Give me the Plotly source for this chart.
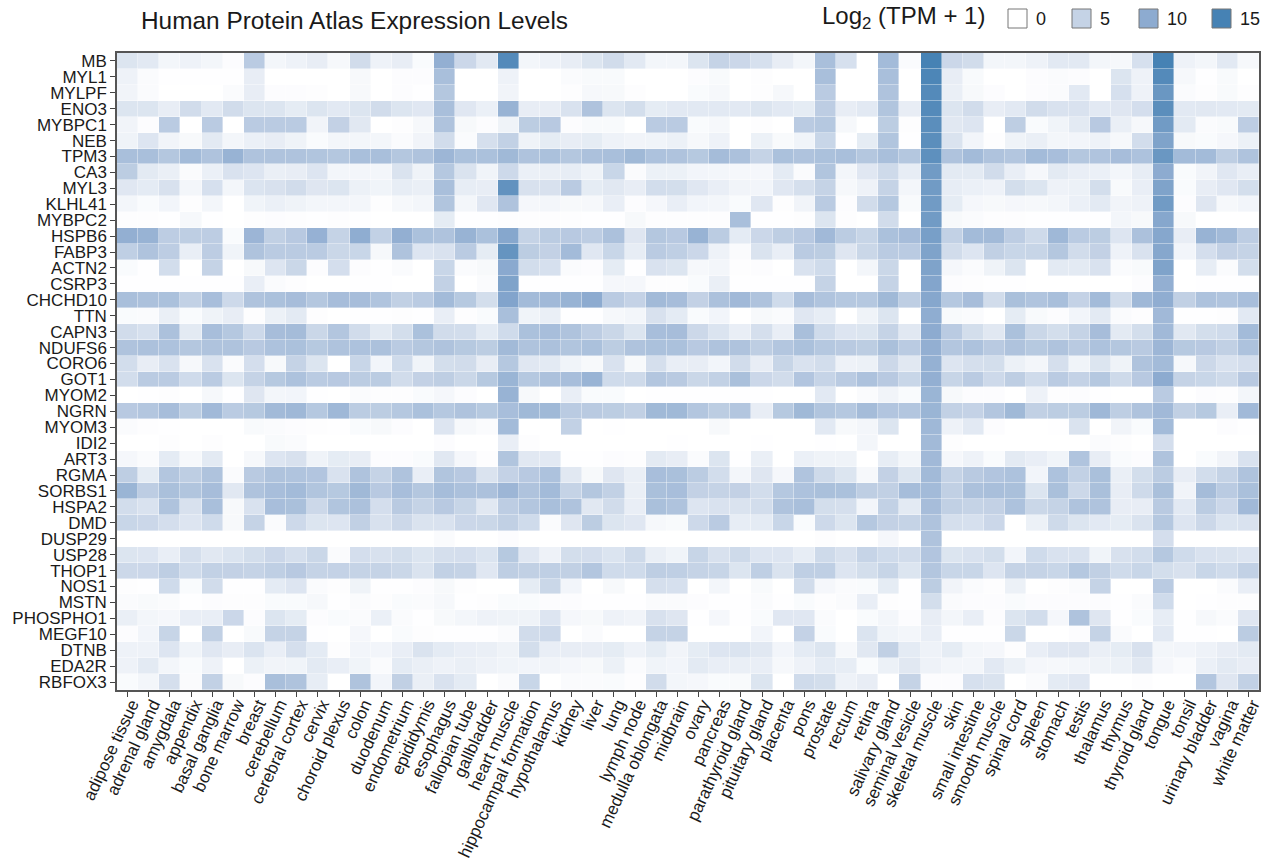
import plotly.graph_objects as go

tissues = ["adipose tissue","adrenal gland","amygdala","appendix","basal ganglia","bone marrow","breast","cerebellum","cerebral cortex","cervix","choroid plexus","colon","duodenum","endometrium","epididymis","esophagus","fallopian tube","gallbladder","heart muscle","hippocampal formation","hypothalamus","kidney","liver","lung","lymph node","medulla oblongata","midbrain","ovary","pancreas","parathyroid gland","pituitary gland","placenta","pons","prostate","rectum","retina","salivary gland","seminal vesicle","skeletal muscle","skin","small intestine","smooth muscle","spinal cord","spleen","stomach","testis","thalamus","thymus","thyroid gland","tongue","tonsil","urinary bladder","vagina","white matter"]
genes = ["MB","MYL1","MYLPF","ENO3","MYBPC1","NEB","TPM3","CA3","MYL3","KLHL41","MYBPC2","HSPB6","FABP3","ACTN2","CSRP3","CHCHD10","TTN","CAPN3","NDUFS6","CORO6","GOT1","MYOM2","NGRN","MYOM3","IDI2","ART3","RGMA","SORBS1","HSPA2","DMD","DUSP29","USP28","THOP1","NOS1","MSTN","PHOSPHO1","MEGF10","DTNB","EDA2R","RBFOX3"]

MB = [3,2.5,1,1.5,1,.3,6,1,1.5,2,.8,4,1.5,2,.5,9.5,4.5,2.5,14,1,1.5,2,3,4,2.5,1,1,3,5,4.5,3.5,2,1,7.5,3.5,0,8,.4,15,4.5,4,1,1,1.5,2.5,2.5,1,.8,3.5,15,1.5,1,2.5,.8]
MYL1 = [1.5,.4,.1,.1,.1,.1,2,0,0,0,0,.7,0,.3,.3,7.5,0,0,1.5,0,0,.4,.6,.6,0,0,0,.3,.6,0,.2,0,0,7.5,0,0,7.5,0,14.5,2,.6,0,0,.3,.4,.3,0,3,1.5,14,.8,.1,.6,0]
MYLPF = [1.2,.4,0,0,0,.4,2,.3,.3,.2,0,.7,0,.3,.1,6.5,0,0,1.2,0,0,.2,.8,.7,.2,0,0,.5,.8,0,.2,.8,0,6,0,0,7,0,14,1.8,.7,.3,0,.3,.4,2.5,0,3.5,1.5,12.5,.4,.2,.6,.2]
ENO3 = [3,3,2,4,2.5,4,3,3,2.2,3,2.5,3,4,3,2.7,7.5,2.7,1.7,9,2,2,3.3,7,3,3.8,2.2,2.5,2.5,2.5,2.5,3,2.5,2.2,5.7,2,2.5,6.8,2,14,3,4,2,2.5,4,3.3,3.3,2.5,2.8,3.7,13.5,2.5,2.6,2.5,2.4]
MYBPC1 = [1.2,.3,6,0,6,0,6,6,6,1.2,5.2,2.6,0,.2,.8,7,.7,.3,1.4,5.8,6.2,.3,.6,.6,0,6,6,.5,.8,0,.2,0,6,6.4,.8,0,5.8,.2,13.5,2.6,2.9,0,5.6,.5,1.3,2.4,6.2,1.8,.8,12,2.4,.4,.6,5.7]
NEB = [1.4,2.9,1.2,.7,2.4,1,1.7,2,1.4,.5,1,1,1,.4,1.2,4,.4,3.6,5.3,1.4,2.2,2,2.2,1.5,1.2,1.3,1.6,.8,1.5,0,1.6,.6,1.3,4.7,.1,2.2,6.8,.1,13.5,3.2,1.1,.2,1.4,1.8,1,1.1,1.5,.8,3.9,11,.7,.5,.9,1.6]
TPM3 = [7.5,7.5,6.5,8,7,9,7,7,7,6.8,6.5,7.5,7.5,6.5,7,8.6,7.3,7.3,8.3,7,7.3,6.5,7.2,7.5,8.3,7.1,7,6.3,7.9,7.2,5,7.3,7,7.3,7.5,6.5,7.5,6.5,13.3,7,8,7,6.6,8,7.6,6.5,6.9,7.7,7.1,12.5,8,8,5.6,7]
CA3 = [5.8,2.4,1.8,.4,1.7,3.3,2.9,1.8,2,2.9,1,1,1,3.2,1.4,6.4,3.2,1.3,4.3,1.7,1.8,2.1,1.4,4.7,.4,1.6,1.6,1.1,1,.9,.9,2.3,.4,6.8,1,2.7,4.2,2.1,12,2.4,2.4,4,1.9,.9,2.4,1.9,1.7,1,2.1,10,.5,1.2,2.7,1.9]
MYL3 = [2.7,2.3,3.4,1,3.5,1,3.1,3.4,4,2.8,3,1.6,1.3,2.1,1.8,7.5,2.1,2,13,3.4,3.4,6,2.2,2.6,2,3.9,3.8,2.7,1.9,1.2,1.1,2.7,3.6,5,.8,1.5,5,1,12,2.1,1.7,1.5,3.8,3,1.5,1.6,3.8,.6,1.9,11,.5,2,2.7,3.8]
KLHL41 = [1,.5,1.1,.2,1,0,1.3,1.7,1.4,1,1,1,.2,.8,1,6.8,1,2.7,7,.9,1,.7,.8,1.9,.3,.9,1.9,1.1,1,.5,2.7,.2,1.2,6,.3,4,6.4,.6,12,2.2,.9,.7,.9,.8,1,1.7,2.4,1.2,1.5,12,.3,2.8,.8,1.1]
MYBPC2 = [.2,.2,.1,.8,.1,0,.2,.3,.2,.1,.2,.1,0,0,0,2.2,.1,.1,.2,.2,.2,.2,.1,.1,.7,.2,.2,.2,.2,7.5,.1,.1,.2,3,.2,0,4,0,12,.7,.4,.2,.2,.1,.1,.1,.1,1,.7,10.5,.7,0,0,0]
HSPB6 = [9.5,9,5.7,5.6,5.7,.5,8.7,5.4,6.2,9.2,5,9.8,5.3,9.5,7.3,7,9,7.3,10.5,5,5.9,6.2,5.7,7.2,2.8,6.5,6.2,9,5.9,2.3,4.5,5.6,6.2,8.2,5.9,4.8,7.3,7.7,11.5,5.3,8,8.1,5.7,4.2,8.4,6,5.8,2.9,7.2,10.5,2,9,8.1,5.7]
FABP3 = [5.5,7,5.7,1.9,5.7,1.3,7,6,6,6,4.6,4.7,.8,7,2.9,3.3,6,2.2,12.8,5.8,5.2,8,2.7,4.7,2.1,6,5.5,4.5,1.5,.4,3.2,1.9,6,5.8,2.8,4.6,6,6,11,4,2.9,5.4,4.7,4.8,6.5,4,5.2,1.5,3.3,10.5,1.1,3.7,5.2,5]
ACTN2 = [.5,.1,3.9,0,5,0,.7,2.9,4.6,.3,3.7,.3,.1,.4,0,4.7,.4,.7,10.2,3.9,3.5,.4,.3,2.2,.1,3.3,3,.8,1,.2,.3,0,3.3,4.1,0,1,4.6,0,11,.9,.4,1.4,3,0,2.4,2.4,3.3,.4,.6,11,0,2.1,.4,3.8]
CSRP3 = [.1,.1,.1,.1,.1,.1,1.9,.4,.2,0,0,.1,.1,0,0,5.3,0,.4,11,.1,.1,.1,.1,.9,.9,.2,.2,.5,1.8,.1,.1,.1,.1,5,0,0,5,0,10.7,.3,.2,.1,.1,0,0,0,0,0,.3,9.5,0,.1,.1,.1]
CHCHD10 = [7.5,7.2,7.3,5.3,7.6,4.3,7,7.3,7.7,6.5,7.7,7.7,6.9,5.4,6,8,6.3,3.8,10.8,8,8.2,9,10,6,5.1,8.1,7.7,5.2,7.2,8.2,7,4.1,7.7,6.9,6.4,6.4,8.3,5.6,10.5,6.4,7.7,4,7.4,6.9,7.5,5.1,8,4,8.4,9.7,5.4,7.1,6.9,7.6]
TTN = [.5,.4,1.8,.5,1.4,2,.2,1.6,2.4,.2,0,.1,.1,.2,.1,1.9,.2,.5,7.5,1.3,1.8,.1,.1,.8,1,3.4,2.3,.5,1.1,0,.7,.4,2.7,2.1,0,1.4,3,0,9.8,.6,.4,0,2.2,.6,.3,1.1,2.4,.4,.2,8.2,.1,.1,.2,2.5]
CAPN3 = [4,3.5,7.2,2.4,7.6,6.4,4.3,7.7,7.9,4.6,6.6,4,2.4,3.8,7.3,4,3.9,2.3,4.1,7.3,7.6,7,5.7,4.6,3,7.6,7.7,4.4,3.1,1.9,3.6,1.9,7.5,4.1,2.9,3,5,2.6,10,6,3.8,2.6,7.3,4.6,3.8,5,7.7,2.4,3.8,8.2,2.6,3.8,4.1,8]
NDUFS6 = [7,7.2,7.1,6.5,7,7,6.2,7.1,7.3,6.3,7,7.1,7.2,6,6.5,7,6.3,5.8,8.1,7,7.2,6.8,7.3,5.8,7,7.3,7.3,6.2,7,7,5.6,6.6,7.3,6.4,6.1,5.8,7.4,6,9.5,6.6,7.1,6.1,7,6.3,7,6.1,7.1,6.5,6.1,8.6,6.3,6.2,5.4,7.1]
CORO6 = [3.9,2,3.3,.8,3.3,.4,3.7,.7,5,3,0,4.7,1.1,4.1,1.3,3.8,4,2,6.4,2.7,2.4,1.3,.7,3.3,.7,3.6,1.9,2,1.1,4,2,4.8,3.3,3.9,1.5,1.6,4.4,2.6,9.3,2.9,3.6,3.8,1.6,1,3.6,1.3,3,1.4,7,8,.8,4.4,3.3,3.7]
GOT1 = [3.9,6,6,4.1,6,3,5,6.3,7.1,6,6.2,5.9,5.9,4,5.2,5.6,4.6,6.3,8.8,6.4,7.2,7.6,8.9,4.1,4.2,6.6,6.1,4.6,5.3,7.4,4.5,4,6.7,4.9,6,7.1,6.2,4.7,9.5,4.8,6,4.3,5.6,4.1,6,5.1,6.4,4.2,6.2,10,5,4.7,4.2,6.2]
MYOM2 = [0,.1,.2,0,.8,.1,2.8,1,1.1,.1,0,.4,.2,.2,.5,.9,.3,0,9,.7,0,1.9,.5,.5,0,.1,.1,.1,.1,.1,.1,0,0,2.5,0,.4,1.2,.5,8.8,.7,.3,.3,0,1.5,.2,.3,.1,0,0,6,0,.3,.2,1]
NGRN = [6.2,6.6,7.7,5.8,8.2,6,6.3,8.1,8.4,6.4,8.4,5.9,5.8,6.4,7.3,6.4,7,6.3,7.6,8.3,8.3,6,6.1,5.8,5.4,8.3,8.3,6.6,5.8,6.6,2,6.3,8.3,6.8,6.4,7.9,6.7,6.6,8.8,5.3,5.1,6.6,8.3,5.4,5.8,5.8,8.4,5.6,7,8.2,5.4,6.3,1.9,8.2]
MYOM3 = [.4,.2,.1,0,0,0,.6,.4,.3,.2,.1,.5,.7,.3,0,2.9,.8,.4,8,0,0,5.3,0,.1,0,0,0,0,.7,0,0,0,0,2.5,.7,1,3,0,8.4,1.5,2.5,.3,0,0,.1,3.2,0,1.2,.5,8,0,0,.3,.1]
IDI2 = [0,0,.2,0,.2,0,0,.6,.4,0,0,0,0,0,0,.3,0,0,1.9,.2,0,0,0,0,0,0,.1,0,0,0,.1,0,0,.1,0,1,0,0,8.1,.2,0,0,0,0,0,0,.4,.2,0,3.7,0,0,0,0]
ART3 = [.9,.4,2.3,.8,2.4,0,.8,2.9,3.4,1.4,2.2,2,.3,.3,.5,2.6,.9,.2,6.8,2.6,2.5,.1,.1,.3,.2,2.4,2,.4,3,.1,1.8,0,1.7,1.4,1.4,0,2.1,1,8.2,.9,1.5,.5,2.4,1.9,1.3,6.9,2,.5,.3,7,0,.5,1.2,3.3]
RGMA = [5.6,2.2,6.6,5.6,7,.4,6.1,7,6.9,6.7,3.3,7,5,7,1.9,6.8,6.2,3.2,5.1,6.2,7.1,2.6,.7,2.8,1.8,7.6,7.4,5.9,3.9,1,2.8,.9,6.9,4.2,3,.8,5.2,3,8.1,5,6.1,6.7,7.1,1.1,7.1,5.3,7.4,1.8,3.8,5.9,2,3.9,5,7]
SORBS1 = [8.8,5.7,7.4,6.8,7.7,2.6,7,7.6,8,6.8,6.3,8.3,6.2,7.6,6.5,7.8,7.2,7.2,8.6,7,8,5,6.5,5.3,1.8,7.4,7.6,5.2,5,5.2,3.9,6.4,7.1,7.4,7.3,5.6,5.4,7.8,8,5.4,7.2,7.5,7.4,3,7.4,4.4,7.4,2,4.2,7.4,1.2,7.9,6,7.4]
HSPA2 = [3.9,3.3,7,3.4,7.5,.7,3.3,7.6,7.4,4.4,6.8,7.2,3.7,6.1,5,6.2,4.8,2.6,5.7,6.6,7.5,7,2.6,4,1.9,7.4,7,2.9,3.3,3.2,3.9,7,7.5,3.8,3.6,1.1,5.3,2.4,7.7,5.4,5,5.2,7.1,4.6,5,7,7,2,2,6.1,2.5,5.9,4.5,8.2]
DMD = [4.7,4.5,3.7,2.9,4.1,.7,5,.4,4.3,3,2.9,5.4,3.4,4.4,3.2,3.3,4.5,4.6,5.4,4.1,.4,2.8,5.8,3,2.7,.8,.6,4.3,6,2.1,2.3,4.7,.5,4.3,3,6.4,5.2,5,7,3.6,3.5,4.5,0,1.6,4.2,3,2.5,2.2,3.2,6.4,2.9,4.4,3.1,3.3]
DUSP29 = [0,0,0,0,0,0,0,0,0,0,0,0,0,0,0,.4,0,0,.3,0,0,0,0,0,0,0,0,0,0,0,0,0,0,.2,0,0,.9,0,7,0,0,0,0,0,0,0,0,0,0,3.7,0,0,0,0]
USP28 = [3,2.9,1.9,3.6,2.6,3.1,3.8,4.5,3.6,4.6,.4,3.7,3.4,3.8,3,3.6,3.7,3.1,6.3,2.7,1.5,3.8,3.7,3.1,4.2,1.8,1.3,4.8,3.4,4.2,2.9,2.9,2.1,4.2,3.4,4.9,4.1,4,6.7,3,3.3,3.8,1.1,4.1,3.3,3.3,1.3,3.4,3.9,6.4,4.1,3.3,3.2,2.9]
THOP1 = [4.4,4.5,5.6,4.1,5.3,5.2,5,5.5,6.2,5,5.1,5,5,4.6,3.2,5.3,5,2.7,5.6,5.4,5.5,5.4,6.6,4.1,4.1,5.6,5.5,5,4.8,3,5.5,3.2,5.5,5.5,2.9,3.8,4.8,3,6.6,4.7,4.7,2.9,5,5,4.7,6.4,5.4,4.1,4.7,3.8,3.4,4.7,4.1,5.3]
NOS1 = [.2,.1,4.1,.5,4,.1,.1,2.3,2.9,.4,.2,1.4,.1,.1,.3,.7,.2,0,0,2.2,4.6,1.1,0,.7,0,3.6,3.5,0,1,0,.6,0,4,.9,.4,.5,2.2,.1,5.8,1.2,.4,.2,1.6,0,.2,.4,5,0,0,6,0,0,.4,1.9]
MSTN = [.4,.6,.4,.1,.3,.2,.2,.5,.5,.8,.1,.4,.2,.5,.4,.8,.1,.2,.5,.5,.3,.3,.1,.1,.1,.4,.4,.3,.1,.1,.4,.1,.5,.2,.4,1.9,.2,.1,3.8,.4,.3,.3,.5,.3,.3,.3,.3,.1,.4,4.1,0,.1,.2,.2]
PHOSPHO1 = [1.8,1,.9,1.9,1.9,4.5,.3,3,2.2,.3,.5,.4,1.7,.4,.1,.7,1,1.5,1.4,1.4,2.9,.9,.7,1.5,1.2,3.4,2.8,.1,.9,.1,.5,2.7,2.7,.4,0,.5,1,.3,2,1,1.9,.3,3,3.9,.9,7,2.8,.1,.5,2.1,.1,.8,.4,2.8]
MEGF10 = [.3,1.1,4.8,0,5.4,0,.6,5,5,.1,0,.9,0,.5,.2,.1,.1,.1,.4,4,4.3,0,.4,0,0,5,5,0,0,0,1.1,0,5.1,.5,0,3.1,1.3,1,1.9,.1,.1,.1,4.6,0,0,.3,5,.4,0,2.5,.1,.1,0,5.9]
DTNB = [1.5,1.5,2.9,1.3,2.7,2,3.1,1.9,3.6,2.3,.2,1.1,1.1,1.9,3.2,2.3,1.9,1.8,1.4,3.8,1.9,2,2,2.2,1.5,2.2,1.2,2.2,2.9,3.1,2.6,1.1,2.3,3,.8,2.6,5.4,2.3,1.5,2.2,1,.9,.2,1.9,2.7,2.8,1.8,2.2,3.4,1,1.1,1.5,2,2.4]
EDA2R = [1.5,2.4,1,.5,1.5,0,1.6,1.2,1.3,2.4,1.9,1.3,.4,2.3,1.8,1.5,1.8,1.5,1.3,1.1,1.2,.9,.7,1.6,.4,1.3,1.1,2.4,1.9,1.8,1.9,.8,1.5,2.3,2.1,.5,1.6,2.6,1.5,1,1,2.5,1.6,.9,.8,1,1.4,1.6,2.6,.9,.4,1.7,2.4,2]
RBFOX3 = [.5,1,3.6,.4,5.3,.7,.3,7.5,7,2.1,0,7,1.1,5.4,1.8,3.3,2.3,0,.4,4.7,0,.4,.4,.5,.2,4,1,.9,.5,.6,3,0,4.1,3.8,1.5,2,0,5,.3,.3,3.5,3.2,0,.4,2.3,2.7,0,0,.2,0,0,6.6,2.8,5.3]

matrix = [MB,MYL1,MYLPF,ENO3,MYBPC1,NEB,TPM3,CA3,MYL3,KLHL41,MYBPC2,HSPB6,FABP3,ACTN2,CSRP3,CHCHD10,TTN,CAPN3,NDUFS6,CORO6,GOT1,MYOM2,NGRN,MYOM3,IDI2,ART3,RGMA,SORBS1,HSPA2,DMD,DUSP29,USP28,THOP1,NOS1,MSTN,PHOSPHO1,MEGF10,DTNB,EDA2R,RBFOX3]
for g, row in zip(genes, matrix):
    assert len(row) == len(tissues), (g, len(row))

legend_values = [0, 5, 10, 15]
stops = ["#FFFFFF", "#C5D3E6", "#8DABD0", "#4682B4"]
scale = [[v / 15, c] for v, c in zip(legend_values, stops)]

W, H = 1271, 862
L, R, T, B = 117, 1259, 53, 690
FONT = "Liberation Sans, Arial, sans-serif"
TXT = "#1a1a1a"

fig = go.Figure(go.Heatmap(z=matrix, x=tissues, y=genes, zmin=0, zmax=15,
                           colorscale=scale, showscale=False, xgap=0.4, ygap=0.4))

axis_common = dict(showline=True, mirror=True, linecolor="#555555", linewidth=1.5,
                   ticks="outside", ticklen=5, tickwidth=1.2, tickcolor="#444444",
                   showgrid=False, zeroline=False,
                   tickfont=dict(family=FONT, size=17, color=TXT))
fig.update_xaxes(tickangle=-65, tickmode="array", tickvals=tissues, ticktext=tissues,
                 ticklabelstandoff=-9, ticklabelshift=4, **axis_common)
fig.update_yaxes(autorange="reversed", tickmode="array", tickvals=genes, ticktext=genes, **axis_common)

def px(x): return (x - L) / (R - L)
def py(y): return (B - y) / (B - T)

shapes, annotations = [], []
key_x = [1008, 1072, 1139, 1212]
for x0, v, c in zip(key_x, legend_values, stops):
    shapes.append(dict(type="rect", xref="paper", yref="paper", layer="above",
                       x0=px(x0), x1=px(x0 + 19), y0=py(28), y1=py(9),
                       fillcolor=c, line=dict(color="#777777", width=1)))
    annotations.append(dict(xref="paper", yref="paper", x=px(x0 + 26), y=py(18.5),
                            text=str(v), showarrow=False, xanchor="left", yanchor="middle",
                            font=dict(family=FONT, size=18, color=TXT)))
annotations.append(dict(xref="paper", yref="paper", x=px(139), y=py(21),
                        text="Human Protein Atlas Expression Levels", showarrow=False,
                        xanchor="left", yanchor="middle",
                        font=dict(family=FONT, size=24.4, color=TXT)))
annotations.append(dict(xref="paper", yref="paper", x=px(820), y=py(18),
                        text="Log<sub>2</sub> (TPM + 1)", showarrow=False,
                        xanchor="left", yanchor="middle",
                        font=dict(family=FONT, size=24, color=TXT)))

fig.update_layout(width=W, height=H, autosize=False,
                  margin=dict(l=L, r=W - R, t=T, b=H - B, autoexpand=False),
                  paper_bgcolor="white", plot_bgcolor="white",
                  shapes=shapes, annotations=annotations)

fig.write_html("out.html", config={"displayModeBar": False},
               post_script="document.body.style.margin='0';document.documentElement.style.overflow='hidden';")
